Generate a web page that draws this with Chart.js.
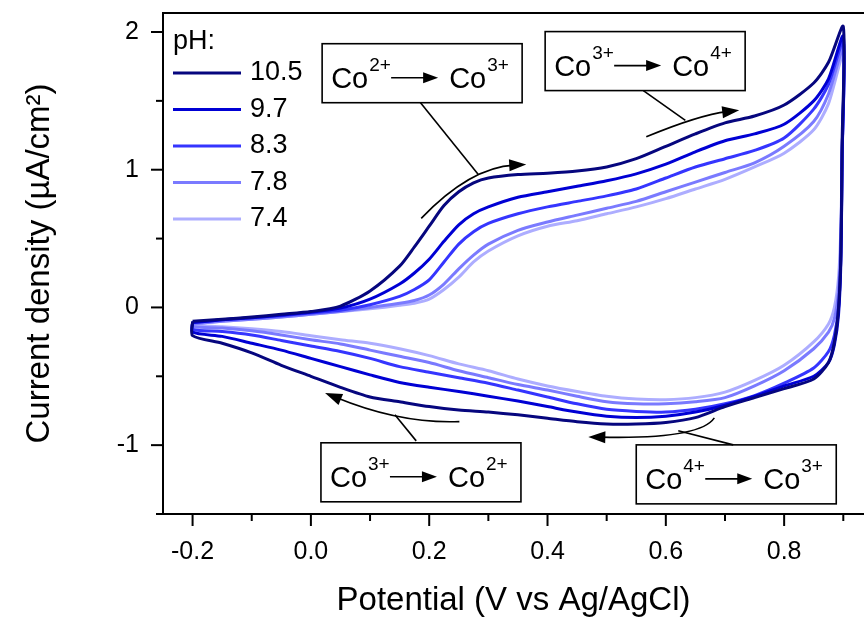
<!DOCTYPE html>
<html lang="en">
<head>
<meta charset="UTF-8">
<title>Cyclic voltammograms vs pH</title>
<script src="https://cdn.jsdelivr.net/npm/chart.js@4"></script>
<style>
  html, body { margin: 0; padding: 0; background: #fff; }
  canvas { display: block; }
</style>
</head>
<body>
<canvas id="cv" width="864" height="621"></canvas>
<script>
  const FONT = '"Liberation Sans", Arial, sans-serif';

  // potential grid (V vs Ag/AgCl): anodic sweep up, then cathodic sweep back
  const fwdPotential = [-0.2, -0.15, -0.1, -0.05, 0.0, 0.05, 0.1, 0.15, 0.175, 0.2, 0.225, 0.25, 0.275, 0.3, 0.35, 0.4, 0.45, 0.5, 0.55, 0.6, 0.65, 0.7, 0.75, 0.8, 0.85, 0.875, 0.9];
  const revPotential = [0.898, 0.896, 0.892, 0.885, 0.875, 0.85, 0.8, 0.75, 0.7, 0.65, 0.6, 0.55, 0.5, 0.45, 0.4, 0.35, 0.3, 0.25, 0.2, 0.15, 0.1, 0.05, 0.0, -0.05, -0.1, -0.15, -0.2];

  const phLabels = ['10.5', '9.7', '8.3', '7.8', '7.4'];
  const phColors = ['#06067e', '#0000d4', '#3535ff', '#7a7aff', '#adadff'];

  // current density, µA/cm²
  const fwd105 = [-0.10, -0.085, -0.07, -0.05, -0.03, 0.01, 0.12, 0.30, 0.44, 0.59, 0.74, 0.84, 0.905, 0.94, 0.965, 0.975, 0.99, 1.02, 1.08, 1.17, 1.26, 1.34, 1.39, 1.47, 1.63, 1.78, 2.04];
  const fwd97  = [-0.11, -0.09, -0.075, -0.055, -0.035, -0.005, 0.06, 0.17, 0.25, 0.35, 0.48, 0.60, 0.68, 0.73, 0.80, 0.84, 0.88, 0.92, 0.97, 1.04, 1.13, 1.21, 1.26, 1.33, 1.50, 1.66, 1.97];
  const fwd83  = [-0.11, -0.09, -0.075, -0.06, -0.04, -0.02, 0.02, 0.08, 0.13, 0.20, 0.33, 0.46, 0.55, 0.61, 0.68, 0.73, 0.77, 0.81, 0.86, 0.94, 1.02, 1.08, 1.14, 1.23, 1.44, 1.62, 1.93];
  const fwd78  = [-0.12, -0.10, -0.085, -0.07, -0.05, -0.03, 0.0, 0.03, 0.05, 0.09, 0.17, 0.28, 0.38, 0.46, 0.56, 0.62, 0.67, 0.72, 0.77, 0.84, 0.91, 0.98, 1.05, 1.17, 1.35, 1.55, 1.88];
  const fwd74  = [-0.12, -0.10, -0.085, -0.07, -0.05, -0.03, -0.01, 0.015, 0.03, 0.06, 0.13, 0.22, 0.33, 0.41, 0.52, 0.59, 0.63, 0.68, 0.73, 0.79, 0.86, 0.93, 1.02, 1.12, 1.29, 1.48, 1.84];

  const rev105 = [1.2, 0.4, 0.0, -0.25, -0.40, -0.52, -0.59, -0.655, -0.72, -0.80, -0.835, -0.846, -0.846, -0.83, -0.805, -0.78, -0.76, -0.745, -0.72, -0.685, -0.65, -0.58, -0.50, -0.42, -0.33, -0.26, -0.205];
  const rev97  = [1.1, 0.35, -0.05, -0.27, -0.40, -0.50, -0.57, -0.645, -0.71, -0.76, -0.79, -0.80, -0.79, -0.76, -0.72, -0.68, -0.645, -0.61, -0.58, -0.545, -0.49, -0.43, -0.37, -0.31, -0.26, -0.21, -0.18];
  const rev83  = [1.1, 0.4, 0.0, -0.20, -0.32, -0.44, -0.55, -0.64, -0.70, -0.74, -0.76, -0.755, -0.74, -0.70, -0.65, -0.60, -0.55, -0.51, -0.47, -0.43, -0.37, -0.32, -0.28, -0.24, -0.20, -0.175, -0.16];
  const rev78  = [1.1, 0.5, 0.12, -0.08, -0.18, -0.30, -0.46, -0.57, -0.655, -0.685, -0.70, -0.70, -0.685, -0.645, -0.60, -0.56, -0.51, -0.46, -0.40, -0.355, -0.31, -0.265, -0.235, -0.20, -0.17, -0.15, -0.14];
  const rev74  = [1.1, 0.6, 0.22, 0.0, -0.12, -0.25, -0.42, -0.53, -0.615, -0.655, -0.67, -0.665, -0.645, -0.61, -0.57, -0.52, -0.46, -0.41, -0.35, -0.30, -0.26, -0.235, -0.205, -0.175, -0.155, -0.14, -0.13];

  const fwdCurrents = [fwd105, fwd97, fwd83, fwd78, fwd74];
  const revCurrents = [rev105, rev97, rev83, rev78, rev74];

  const xMajorTicks = [-0.2, 0.0, 0.2, 0.4, 0.6, 0.8];
  const xMinorTicks = [-0.1, 0.1, 0.3, 0.5, 0.7, 0.9];
  const yMajorTicks = [-1, 0, 1, 2];
  const yMinorTicks = [-1.5, -0.5, 0.5, 1.5];

  // redox labels: top-left corner of each box (V, µA/cm²) and the ion charges
  const boxCorners = [[0.019, 1.915], [0.396, 2.003], [0.017, -0.983], [0.550, -0.998]];
  const boxIons = [['2+', '3+'], ['3+', '4+'], ['3+', '2+'], ['4+', '3+']];
  // sweep-direction arrows: start, control point, tip
  const sweepArrows = [
    [[0.1865, 0.647], [0.269, 1.017], [0.364, 1.038]],
    [[0.567, 1.239], [0.6565, 1.398], [0.724, 1.432]],
    [[0.251, -0.829], [0.151, -0.846], [0.024, -0.621]],
    [[0.682, -0.802], [0.6575, -0.959], [0.469, -0.940]]
  ];
  // leader lines from boxes to arrows
  const leaders = [
    [[0.185, 1.488], [0.283, 0.966]],
    [[0.562, 1.575], [0.633, 1.359]],
    [[0.142, -0.780], [0.178, -0.969]],
    [[0.621, -0.896], [0.714, -0.998]]
  ];

  function loopPoints(i) {
    const pts = fwdPotential.map((v, k) => ({ x: v, y: fwdCurrents[i][k] }));
    revPotential.forEach((v, k) => pts.push({ x: v, y: revCurrents[i][k] }));
    pts.push(pts[0]); // close the cycle
    return pts;
  }

  const datasets = phLabels.map((lab, i) => ({
    label: lab,
    data: loopPoints(i),
    borderColor: phColors[i],
    borderWidth: 3,
    pointRadius: 0,
    tension: 0.25,
    fill: false
  }));

  function seg(ctx, x1, y1, x2, y2) {
    ctx.beginPath(); ctx.moveTo(x1, y1); ctx.lineTo(x2, y2); ctx.stroke();
  }

  function arrowHead(ctx, tipX, tipY, ang, len, half) {
    ctx.beginPath();
    ctx.moveTo(tipX, tipY);
    ctx.lineTo(tipX - len * Math.cos(ang) + half * Math.sin(ang), tipY - len * Math.sin(ang) - half * Math.cos(ang));
    ctx.lineTo(tipX - len * Math.cos(ang) - half * Math.sin(ang), tipY - len * Math.sin(ang) + half * Math.cos(ang));
    ctx.closePath();
    ctx.fill();
  }

  // frame with outward major/minor ticks
  const frameTicks = {
    id: 'frameTicks',
    afterDraw(chart) {
      const { ctx, chartArea: a, scales: { x, y } } = chart;
      ctx.save();
      ctx.strokeStyle = '#000';
      ctx.lineWidth = 2;
      ctx.beginPath();
      ctx.moveTo(chart.width, a.top);
      ctx.lineTo(a.left, a.top);
      ctx.lineTo(a.left, a.bottom);
      ctx.lineTo(chart.width, a.bottom);
      ctx.stroke();
      xMajorTicks.forEach(v => { const p = x.getPixelForValue(v); seg(ctx, p, a.bottom, p, a.bottom + 12); });
      xMinorTicks.forEach(v => { const p = x.getPixelForValue(v); seg(ctx, p, a.bottom, p, a.bottom + 7); });
      yMajorTicks.forEach(v => { const p = y.getPixelForValue(v); seg(ctx, a.left, p, a.left - 12, p); });
      yMinorTicks.forEach(v => { const p = y.getPixelForValue(v); seg(ctx, a.left, p, a.left - 7, p); });
      ctx.restore();
    }
  };

  // pH legend in the top-left corner of the plot
  const phLegend = {
    id: 'phLegend',
    afterDraw(chart) {
      const { ctx, chartArea: a } = chart;
      ctx.save();
      ctx.font = '27px ' + FONT;
      ctx.fillStyle = '#000';
      ctx.textBaseline = 'middle';
      ctx.fillText('pH:', a.left + 10, a.top + 29);
      chart.data.datasets.forEach((ds, i) => {
        const yy = a.top + 60 + i * 36.5;
        ctx.strokeStyle = ds.borderColor;
        ctx.lineWidth = 3;
        seg(ctx, a.left + 10, yy, a.left + 78, yy);
        ctx.fillStyle = '#000';
        ctx.fillText(ds.label, a.left + 87, yy);
      });
      ctx.restore();
    }
  };

  // Co oxidation-state boxes, leader lines and sweep arrows
  const redoxNotes = {
    id: 'redoxNotes',
    afterDraw(chart) {
      const { ctx, scales: { x, y } } = chart;
      ctx.save();
      ctx.strokeStyle = '#000';
      ctx.fillStyle = '#000';
      ctx.lineWidth = 1.6;

      boxCorners.forEach(([bv, bj], i) => {
        const bx = x.getPixelForValue(bv), by = y.getPixelForValue(bj);
        ctx.fillStyle = '#fff';
        ctx.fillRect(bx, by, 200, 59);
        ctx.strokeRect(bx, by, 200, 59);
        ctx.fillStyle = '#000';
        ctx.textBaseline = 'alphabetic';
        ctx.font = '29px ' + FONT;
        ctx.fillText('Co', bx + 9, by + 44);
        ctx.fillText('Co', bx + 127, by + 44);
        ctx.font = '19px ' + FONT;
        ctx.fillText(boxIons[i][0], bx + 47, by + 27);
        ctx.fillText(boxIons[i][1], bx + 165, by + 27);
        seg(ctx, bx + 69, by + 34, bx + 104, by + 34);
        arrowHead(ctx, bx + 116, by + 34, 0, 15, 5.5);
      });

      leaders.forEach(([p, q]) => {
        seg(ctx, x.getPixelForValue(p[0]), y.getPixelForValue(p[1]), x.getPixelForValue(q[0]), y.getPixelForValue(q[1]));
      });

      sweepArrows.forEach(([s, c, t]) => {
        const sx = x.getPixelForValue(s[0]), sy = y.getPixelForValue(s[1]);
        const cx = x.getPixelForValue(c[0]), cy = y.getPixelForValue(c[1]);
        const tx = x.getPixelForValue(t[0]), ty = y.getPixelForValue(t[1]);
        const ang = Math.atan2(ty - cy, tx - cx);
        const ex = tx - 12 * Math.cos(ang), ey = ty - 12 * Math.sin(ang);
        ctx.beginPath();
        ctx.moveTo(sx, sy);
        ctx.quadraticCurveTo(cx, cy, ex, ey);
        ctx.stroke();
        arrowHead(ctx, tx, ty, ang, 17, 6);
      });
      ctx.restore();
    }
  };

  new Chart(document.getElementById('cv'), {
    type: 'line',
    data: { datasets },
    plugins: [frameTicks, phLegend, redoxNotes],
    options: {
      responsive: false,
      animation: false,
      devicePixelRatio: 1,
      layout: { padding: { top: 13, right: 0, bottom: 0, left: 0 } },
      plugins: { legend: { display: false }, tooltip: { enabled: false } },
      scales: {
        x: {
          type: 'linear',
          min: -0.25,
          max: 0.935,
          grid: { display: false, drawTicks: false },
          border: { display: false },
          afterBuildTicks: s => { s.ticks = xMajorTicks.map(v => ({ value: v })); },
          afterFit: s => { s.height = 107; s.paddingLeft = 0; s.paddingRight = 0; },
          ticks: {
            autoSkip: false,
            maxRotation: 0,
            padding: 23,
            color: '#000',
            font: { family: FONT, size: 25 },
            callback: v => v.toFixed(1)
          },
          title: {
            display: true,
            text: 'Potential (V vs Ag/AgCl)',
            color: '#000',
            font: { family: FONT, size: 33 },
            padding: { top: 2, bottom: 0 }
          }
        },
        y: {
          type: 'linear',
          min: -1.5,
          max: 2.138,
          grid: { display: false, drawTicks: false },
          border: { display: false },
          afterBuildTicks: s => { s.ticks = yMajorTicks.map(v => ({ value: v })); },
          afterFit: s => { s.width = 163; s.paddingTop = 0; s.paddingBottom = 0; },
          ticks: {
            autoSkip: false,
            padding: 24,
            color: '#000',
            font: { family: FONT, size: 25 },
            callback: v => String(v)
          },
          title: {
            display: true,
            text: 'Current density (µA/cm²)',
            color: '#000',
            font: { family: FONT, size: 33 },
            padding: { top: 20, bottom: 0 }
          }
        }
      }
    }
  });
</script>
</body>
</html>
